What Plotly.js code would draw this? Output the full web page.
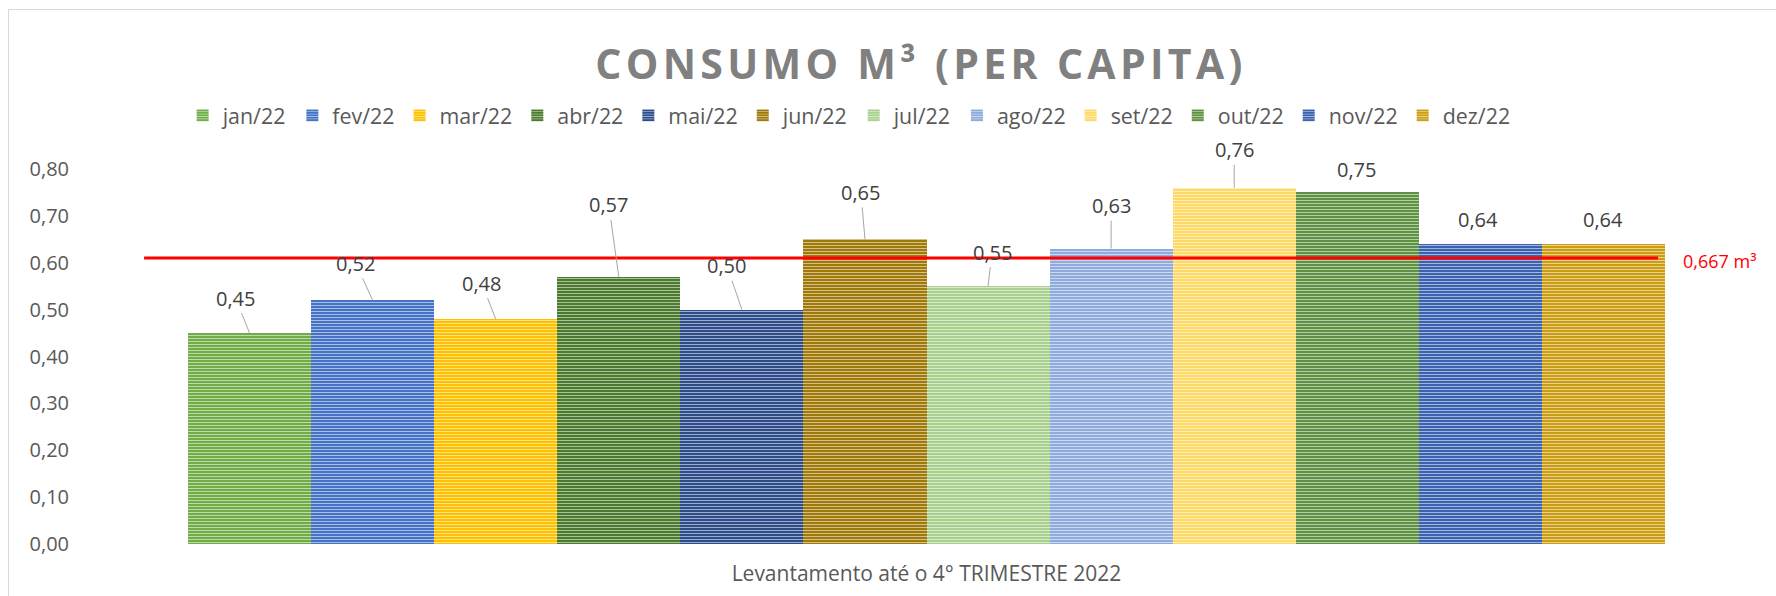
<!DOCTYPE html>
<html><head><meta charset="utf-8">
<script src="https://cdn.plot.ly/plotly-3.0.1.min.js"></script>
<style>
html,body{margin:0;padding:0;background:#fff;overflow:hidden;}
#frame{position:absolute;left:8px;top:9px;width:1800px;height:700px;border:1px solid #d9d9d9;box-sizing:border-box;}
#chart{position:absolute;left:0;top:0;width:1776px;height:596px;}
</style></head><body>
<div id="frame"></div><div id="chart"></div>
<script>
// ---- data ----
const months = ['jan/22','fev/22','mar/22','abr/22','mai/22','jun/22','jul/22','ago/22','set/22','out/22','nov/22','dez/22'];
const values = [0.45, 0.52, 0.48, 0.57, 0.50, 0.65, 0.55, 0.63, 0.76, 0.75, 0.64, 0.64];
const refValue = 0.61;
const refLabel = '0,667 m³';
const chartTitle = 'CONSUMO M³ (PER CAPITA)';
const xTitle = 'Levantamento até o 4° TRIMESTRE 2022';
const yTicks = [0, 0.1, 0.2, 0.3, 0.4, 0.5, 0.6, 0.7, 0.8];

// ---- styling ----
const colors = ['#70AD47','#4472C4','#FFC000','#4A7A2C','#2C4C8A','#A07908','#A9D18E','#8FAADC','#FFD966','#5E9140','#3A62B0','#CC9D12'];
const labelOffsets = [[-14,-35],[-17,-37],[-14,-36],[-10,-72],[-15,-44],[-4,-47],[4,-34],[0,-43],[0,-38],[-1,-23],[-2,-25],[0,-25]];
const showLeader = [true,true,true,true,true,true,true,true,true,false,false,false];
const fmt = v => v.toFixed(2).replace('.', ',');
const grey = '#595959';

const traces = months.map((m, i) => ({
  type: 'bar', name: m, x: [m], y: [values[i]], width: 1,
  marker: {color: colors[i], line: {width: 0},
    pattern: {shape: '-', size: 3, solidity: 0.3, fgcolor: '#ffffff', fgopacity: 0.6, fillmode: 'overlay'}},
  hoverinfo: 'skip'
}));

const annotations = months.map((m, i) => ({
  x: m, y: values[i], xref: 'x', yref: 'y',
  text: fmt(values[i]), showarrow: true, arrowhead: 0, arrowwidth: 1,
  arrowcolor: showLeader[i] ? '#a6a6a6' : 'rgba(0,0,0,0)', standoff: 0,
  ax: labelOffsets[i][0], ay: labelOffsets[i][1],
  font: {family: 'Open Sans', size: 20, color: '#404040'}
}));
annotations.push({
  x: 11.63, y: refValue, xref: 'x', yref: 'y', xanchor: 'left', yanchor: 'middle', yshift: -3,
  text: refLabel, showarrow: false, font: {family: 'Open Sans', size: 18, color: '#ff0000'}
});

const layout = {
  width: 1776, height: 596,
  paper_bgcolor: 'rgba(0,0,0,0)', plot_bgcolor: 'rgba(0,0,0,0)',
  separators: ',.',
  margin: {l: 100, r: 23, t: 169, b: 52},
  title: {text: '<span style="letter-spacing:4.3px">' + chartTitle + '</span>',
    xref: 'container', x: 0.5186, xanchor: 'center', yref: 'container', y: 0.8916, yanchor: 'middle',
    font: {family: 'Open Sans', size: 41, color: '#808080', weight: 'bold'}},
  barmode: 'overlay', bargap: 0,
  showlegend: true,
  legend: {orientation: 'h', x: 0.05, xanchor: 'left', y: 1.143, yanchor: 'middle',
    font: {family: 'Open Sans', size: 21.4, color: grey}, bgcolor: 'rgba(0,0,0,0)', itemwidth: 30, traceorder: 'normal'},
  xaxis: {type: 'category', categoryarray: months, range: [-1.215, 12.215],
    showticklabels: false, showgrid: false, zeroline: false, showline: false, ticks: '', automargin: false,
    title: {text: xTitle, standoff: 22, font: {family: 'Open Sans', size: 21, color: grey}}},
  yaxis: {range: [0, 0.8], tickvals: yTicks, tickformat: '.2f', showgrid: false, zeroline: false, showline: false,
    ticks: '', ticklabelstandoff: 30, automargin: false,
    tickfont: {family: 'Open Sans', size: 20, color: grey}},
  shapes: [{type: 'line', xref: 'x', yref: 'y', x0: -0.857, x1: 11.443, y0: refValue, y1: refValue,
    line: {color: '#ff0000', width: 3}}],
  annotations: annotations
};

Plotly.newPlot('chart', traces, layout, {staticPlot: true, displayModeBar: false});
</script>
</body></html>
